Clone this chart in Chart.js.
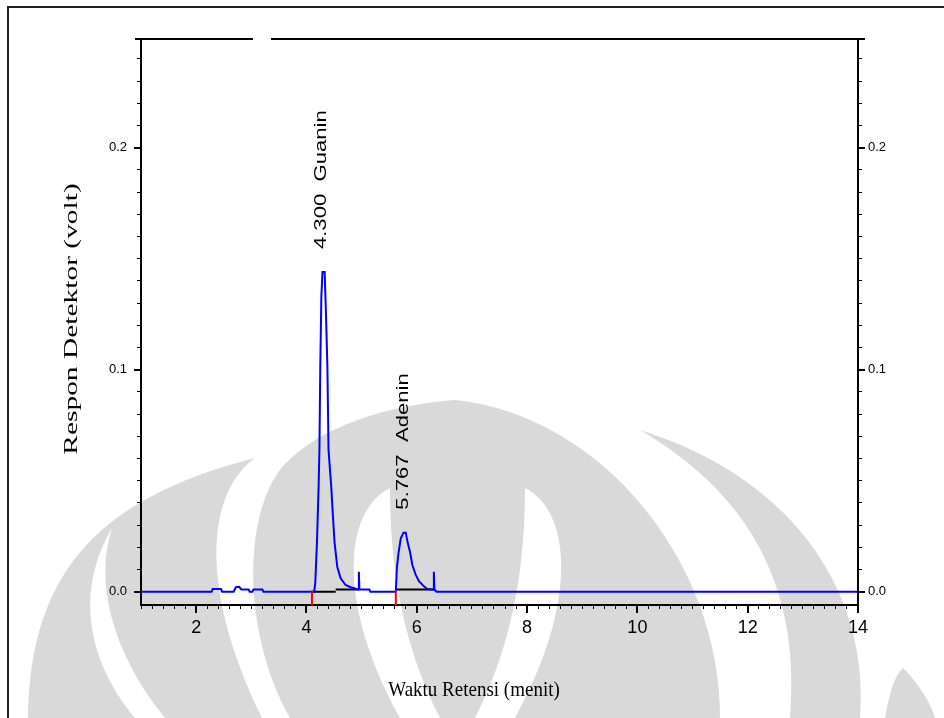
<!DOCTYPE html>
<html>
<head>
<meta charset="utf-8">
<script src="https://cdn.jsdelivr.net/npm/chart.js@4.4.0/dist/chart.umd.min.js"></script>
<style>
  html, body { margin: 0; padding: 0; background: #fff; }
</style>
</head>
<body>
<canvas id="chart" width="944" height="718"></canvas>
<script>
// kromatogram: waktu retensi (menit) dan respon detektor (volt)
const waktu = [1.0, 2.28, 2.30, 2.45, 2.47, 2.68, 2.72, 2.78, 2.82, 2.95, 2.97, 3.02, 3.04, 3.20, 3.22,
  4.14, 4.16, 4.19, 4.22, 4.235, 4.25, 4.27, 4.29, 4.33, 4.355, 4.38, 4.40, 4.45, 4.48, 4.51, 4.56,
  4.62, 4.71, 4.80, 4.94, 4.95, 4.96, 5.14, 5.16,
  5.62, 5.64, 5.67, 5.71, 5.76, 5.80, 5.83, 5.88, 5.92, 5.98, 6.04, 6.13, 6.19, 6.30, 6.31, 6.32, 6.36, 14.0];
const respon = [0, 0, 0.0012, 0.0012, 0, 0, 0.002, 0.0022, 0.001, 0.001, 0, 0, 0.001, 0.001, 0,
  0, 0.004, 0.022, 0.047, 0.064, 0.100, 0.133, 0.144, 0.144, 0.124, 0.101, 0.064, 0.047, 0.034, 0.022, 0.011,
  0.006, 0.003, 0.002, 0.001, 0.009, 0.001, 0.001, 0,
  0, 0.011, 0.0176, 0.024, 0.0266, 0.0266, 0.0227, 0.0176, 0.012, 0.0077, 0.0047, 0.0024, 0.0012, 0.001, 0.009, 0.001, 0, 0];

// garis dasar integrasi (null = putus)
const dasarWaktu = [4.10, 4.53, 4.53, 4.53, 4.95, 4.95, 5.62, 6.33];
const dasarRespon = [0, 0, null, 0.001, 0.001, null, 0.001, 0.001];

// penanda awal puncak (merah)
const penandaWaktu = [4.10, 5.62];

// label puncak
const puncakWaktu = [4.27, 5.75];
const puncakTinggi = [0.144, 0.0266];
const puncakTeks = ['4.300  Guanin', '5.767  Adenin'];

const xMin = 1, xMax = 14;
const yMin = -0.006, yMax = 0.249;

const sinyal = waktu.map((t, i) => ({ x: t, y: respon[i] }));
const dasar = dasarWaktu.map((t, i) => ({ x: t, y: dasarRespon[i] }));
const penanda = [];
penandaWaktu.forEach(t => {
  penanda.push({ x: t, y: 0.0005 }, { x: t, y: yMin }, { x: t, y: null });
});

const isMajor = (v, step) => Math.abs(v / step - Math.round(v / step)) < 1e-6;

// watermark abu-abu di belakang grafik
const watermark = {
  id: 'watermark',
  beforeDraw(chart) {
    const c = chart.ctx;
    c.save();
    c.fillStyle = '#fff';
    c.fillRect(0, 0, chart.width, chart.height);
    c.fillStyle = '#d9d9d9';
    // bulan sabit kiri
    c.beginPath();
    c.moveTo(28, 718);
    c.bezierCurveTo(30, 580, 90, 500, 255, 458);
    c.bezierCurveTo(210, 490, 195, 580, 262, 718);
    c.closePath();
    c.fill();
    // kubah tengah
    c.beginPath();
    c.moveTo(290, 718);
    c.bezierCurveTo(245, 640, 240, 520, 282, 467);
    c.bezierCurveTo(320, 425, 390, 405, 455, 400);
    c.bezierCurveTo(600, 415, 720, 560, 720, 718);
    c.closePath();
    c.fill();
    // bulan sabit kanan
    c.beginPath();
    c.moveTo(860, 718);
    c.bezierCurveTo(870, 600, 800, 480, 640, 430);
    c.bezierCurveTo(760, 500, 800, 600, 790, 718);
    c.closePath();
    c.fill();
    c.beginPath();
    c.moveTo(885, 718);
    c.bezierCurveTo(890, 690, 895, 675, 903, 668);
    c.bezierCurveTo(915, 680, 930, 700, 935, 718);
    c.closePath();
    c.fill();
    // celah putih
    c.fillStyle = '#fff';
    c.beginPath();
    c.moveTo(112, 528);
    c.bezierCurveTo(70, 600, 95, 670, 135, 718);
    c.lineTo(165, 718);
    c.bezierCurveTo(110, 650, 95, 580, 112, 528);
    c.closePath();
    c.fill();
    c.beginPath();
    c.moveTo(390, 488);
    c.bezierCurveTo(345, 510, 335, 600, 400, 718);
    c.lineTo(440, 718);
    c.bezierCurveTo(400, 640, 390, 560, 390, 488);
    c.closePath();
    c.fill();
    c.beginPath();
    c.moveTo(525, 488);
    c.bezierCurveTo(570, 510, 580, 600, 515, 718);
    c.lineTo(475, 718);
    c.bezierCurveTo(515, 640, 525, 560, 525, 488);
    c.closePath();
    c.fill();
    c.restore();
  },
  afterDraw(chart) {
    const c = chart.ctx;
    const a = chart.chartArea;
    const x = chart.scales.x, y = chart.scales.y;
    c.save();
    // bingkai luar
    c.strokeStyle = '#222';
    c.lineWidth = 2;
    c.beginPath();
    c.moveTo(8, 718); c.lineTo(8, 7); c.lineTo(944, 7);
    c.stroke();
    // garis atas plot dengan celah
    c.strokeStyle = '#000';
    c.beginPath();
    c.moveTo(a.left - 6, a.top); c.lineTo(a.left + 112, a.top);
    c.moveTo(a.left + 130, a.top); c.lineTo(a.right + 7, a.top);
    c.stroke();
    // tick mayor
    c.lineWidth = 2;
    c.beginPath();
    for (let v = 0; v <= yMax; v += 0.1) {
      const py = Math.round(y.getPixelForValue(v));
      c.moveTo(a.left - 7, py); c.lineTo(a.left, py);
      c.moveTo(a.right, py); c.lineTo(a.right + 7, py);
    }
    for (let v = 2; v <= xMax; v += 2) {
      const px = Math.round(x.getPixelForValue(v));
      c.moveTo(px, a.bottom); c.lineTo(px, a.bottom + 8);
    }
    c.stroke();
    // label puncak, teks vertikal
    c.fillStyle = '#000';
    c.font = '17px "Liberation Sans", Arial, sans-serif';
    c.textAlign = 'left';
    c.textBaseline = 'middle';
    puncakTeks.forEach((t, i) => {
      const px = x.getPixelForValue(puncakWaktu[i]);
      const py = y.getPixelForValue(puncakTinggi[i]) - 23;
      c.save();
      c.translate(px, py);
      c.rotate(-Math.PI / 2);
      c.scale(1.3, 1);
      c.fillText(t, 0, 0);
      c.restore();
    });
    // judul sumbu
    c.font = '19px "Liberation Serif", "Times New Roman", serif';
    c.textAlign = 'center';
    c.save();
    c.translate(72, 319);
    c.rotate(-Math.PI / 2);
    c.scale(1.55, 1);
    c.fillText('Respon Detektor (volt)', 0, 0);
    c.restore();
    c.save();
    c.translate(474, 690);
    c.scale(1, 1.15);
    c.fillText('Waktu Retensi (menit)', 0, 0);
    c.restore();
    c.restore();
  }
};

const yTicks = {
  stepSize: 0.01,
  autoSkip: false,
  maxTicksLimit: 1000,
  includeBounds: false,
  color: '#000',
  font: { family: '"Liberation Sans", Arial, sans-serif', size: 13 },
  callback: v => isMajor(v, 0.1) ? v.toFixed(1) : ''
};
const yGrid = { drawOnChartArea: false, drawTicks: true, tickLength: 4, color: '#000', lineWidth: 1 };

new Chart(document.getElementById('chart'), {
  type: 'line',
  data: {
    datasets: [
      { label: 'Penanda', data: penanda, borderColor: '#ff0000', borderWidth: 2, pointRadius: 0, spanGaps: false },
      { label: 'Sinyal', data: sinyal, borderColor: '#0000ff', borderWidth: 2, pointRadius: 0, tension: 0 },
      { label: 'Garis dasar', data: dasar, borderColor: '#000', borderWidth: 2, pointRadius: 0, spanGaps: false }
    ]
  },
  options: {
    responsive: false,
    animation: false,
    events: [],
    layout: { padding: { top: 39, left: 0, right: 0, bottom: 0 } },
    plugins: { legend: { display: false }, tooltip: { enabled: false } },
    scales: {
      x: {
        type: 'linear', min: xMin, max: xMax,
        ticks: {
          stepSize: 0.2, autoSkip: false, maxTicksLimit: 1000, maxRotation: 0, includeBounds: false,
          padding: 8, color: '#000',
          font: { family: '"Liberation Sans", Arial, sans-serif', size: 18 },
          callback: v => isMajor(v, 2) ? String(Math.round(v)) : ''
        },
        grid: { drawOnChartArea: false, drawTicks: true, tickLength: 4, color: '#000', lineWidth: 1 },
        border: { display: true, color: '#000', width: 2 },
        afterFit: s => { s.height = 113; }
      },
      y: {
        position: 'left', min: yMin, max: yMax,
        ticks: Object.assign({}, yTicks, { padding: 10 }),
        grid: yGrid,
        border: { display: true, color: '#000', width: 2 },
        afterFit: s => { s.width = 141; }
      },
      y2: {
        position: 'right', min: yMin, max: yMax,
        ticks: Object.assign({}, yTicks, { padding: 6 }),
        grid: yGrid,
        border: { display: true, color: '#000', width: 2 },
        afterFit: s => { s.width = 86; }
      }
    }
  },
  plugins: [watermark]
});
</script>
</body>
</html>
